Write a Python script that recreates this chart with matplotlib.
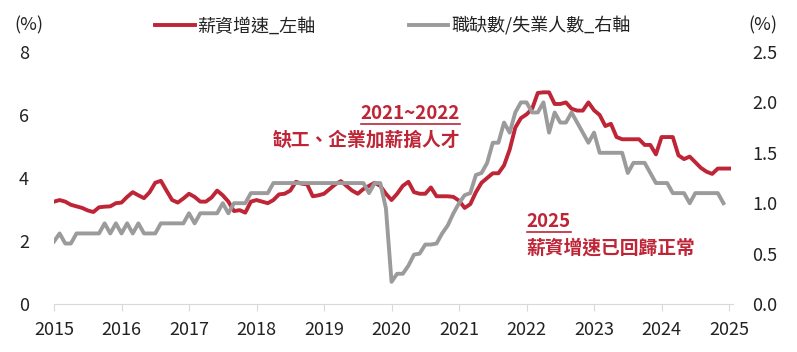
import numpy as np
import matplotlib
matplotlib.use("Agg")
from matplotlib import pyplot as plt
from matplotlib.lines import Line2D

plt.rcParams["font.family"] = ["Noto Sans CJK TC", "DejaVu Sans"]

# 月資料：2015/01 起
years = list(range(2015, 2026))
wage_growth = [
    3.25, 3.3, 3.25, 3.15, 3.1, 3.05, 2.97, 2.92, 3.07, 3.09, 3.1, 3.2,
    3.22, 3.4, 3.55, 3.45, 3.36, 3.55, 3.85, 3.91, 3.6, 3.3, 3.22, 3.35,
    3.5, 3.4, 3.25, 3.25, 3.38, 3.6, 3.45, 3.25, 2.95, 2.98, 2.9, 3.25,
    3.3, 3.25, 3.2, 3.3, 3.48, 3.5, 3.6, 3.88, 3.82, 3.8, 3.42, 3.45,
    3.5, 3.65, 3.8, 3.9, 3.75, 3.6, 3.5, 3.65, 3.75, 3.85, 3.75, 3.5,
    3.3, 3.5, 3.75, 3.88, 3.55, 3.5, 3.5, 3.7, 3.42, 3.42, 3.42, 3.4,
    3.28, 3.05, 3.17, 3.55, 3.85, 4.0, 4.15, 4.15, 4.4, 4.9, 5.6, 5.9,
    6.02, 6.2, 6.7, 6.72, 6.72, 6.35, 6.35, 6.4, 6.2, 6.14, 6.14, 6.4,
    6.15, 6.0, 5.65, 5.72, 5.3, 5.23, 5.23, 5.23, 5.23, 5.05, 5.05, 4.75,
    5.3, 5.3, 5.3, 4.72, 4.6, 4.68, 4.5, 4.32, 4.2, 4.13, 4.3, 4.3,
    4.3,
]
vacancy_ratio = [
    0.62, 0.7, 0.6, 0.6, 0.7, 0.7, 0.7, 0.7, 0.7, 0.8, 0.7, 0.8,
    0.7, 0.8, 0.7, 0.8, 0.7, 0.7, 0.7, 0.8, 0.8, 0.8, 0.8, 0.8,
    0.9, 0.8, 0.9, 0.9, 0.9, 0.9, 1.0, 0.9, 1.0, 1.0, 1.0, 1.1,
    1.1, 1.1, 1.1, 1.2, 1.2, 1.2, 1.2, 1.2, 1.2, 1.2, 1.2, 1.2,
    1.2, 1.2, 1.2, 1.2, 1.2, 1.2, 1.2, 1.2, 1.1, 1.2, 1.2, 0.95,
    0.22, 0.3, 0.3, 0.38, 0.49, 0.5, 0.59, 0.59, 0.6, 0.7, 0.78, 0.9,
    1.0, 1.08, 1.1, 1.28, 1.3, 1.4, 1.6, 1.6, 1.8, 1.7, 1.9, 2.0,
    2.0, 1.9, 1.9, 2.0, 1.7, 1.9, 1.8, 1.8, 1.9, 1.8, 1.7, 1.6,
    1.7, 1.5, 1.5, 1.5, 1.5, 1.5, 1.3, 1.4, 1.4, 1.4, 1.3, 1.2,
    1.2, 1.2, 1.1, 1.1, 1.1, 1.0, 1.1, 1.1, 1.1, 1.1, 1.1, 1.0,
]
left_ticks = [0, 2, 4, 6, 8]
right_ticks = [0.0, 0.5, 1.0, 1.5, 2.0, 2.5]

RED = "#be2537"
GRAY = "#9b9b9b"
TEXT = "#222222"

W, H = 797, 352
fig = plt.figure(figsize=(W / 100, H / 100), dpi=100)
ax = fig.add_axes([54 / W, 1 - 304 / H, (733 - 54) / W, (304 - 52) / H])
ax2 = ax.twinx()

ax.plot(np.arange(len(wage_growth)), wage_growth, color=RED, lw=2.8,
        label="薪資增速_左軸")
ax2.plot(np.arange(len(vacancy_ratio)), vacancy_ratio, color=GRAY, lw=2.8,
         label="職缺數/失業人數_右軸")

ax.set_xlim(0, 120.7)
ax.set_ylim(0, 8)
ax2.set_ylim(0, 2.5)
ax.set_xticks(np.arange(0, 121, 12))
ax.set_xticklabels([str(y) for y in years], fontsize=13, color=TEXT)
ax.set_yticks(left_ticks)
ax.set_yticklabels([str(v) for v in left_ticks], fontsize=13, color=TEXT)
ax2.set_yticks(right_ticks)
ax2.set_yticklabels([f"{v:.1f}" for v in right_ticks], fontsize=13,
                    color=TEXT)

for a in (ax, ax2):
    for s in a.spines.values():
        s.set_visible(False)
ax.spines["bottom"].set_visible(True)
ax.spines["bottom"].set_color("#d9d9d9")
ax.tick_params(axis="x", length=5, color="#d9d9d9", pad=7)
ax.tick_params(axis="y", length=0, pad=18)
ax2.tick_params(axis="y", length=0, pad=14)

fig.text(29 / W, 1 - 25 / H, "(%)", ha="center", va="center",
         fontsize=13, color=TEXT)
fig.text(763 / W, 1 - 25 / H, "(%)", ha="center", va="center",
         fontsize=13, color=TEXT)

h1, l1 = ax.get_legend_handles_labels()
h2, l2 = ax2.get_legend_handles_labels()
fig.legend(h1 + h2, l1 + l2, loc="center left",
           bbox_to_anchor=(155 / W, 1 - 26 / H), borderaxespad=0,
           borderpad=0, ncol=2, frameon=False, fontsize=13,
           handlelength=2.2, handletextpad=0.15, columnspacing=5.15,
           labelcolor=TEXT)

# 註解文字
t1 = ax.text(72.2, 6.06, "2021~2022", ha="right", va="center", color=RED,
             fontsize=13.5, fontweight="bold")
ax.text(72.2, 5.2, "缺工、企業加薪搶人才", ha="right", va="center",
        color=RED, fontsize=13.5, fontweight="bold")
t2 = ax.text(84.0, 2.63, "2025", ha="left", va="center", color=RED,
             fontsize=13.5, fontweight="bold")
ax.text(84.0, 1.78, "薪資增速已回歸正常", ha="left", va="center",
        color=RED, fontsize=13.5, fontweight="bold")

# 底線
fig.canvas.draw()
renderer = fig.canvas.get_renderer()
for t in (t1, t2):
    bb = t.get_window_extent(renderer)
    y = bb.y0 - 1
    fig.add_artist(Line2D([bb.x0 / W, bb.x1 / W], [y / H, y / H],
                          transform=fig.transFigure, color=RED, lw=1.2))

fig.savefig("out.png", dpi=100)
